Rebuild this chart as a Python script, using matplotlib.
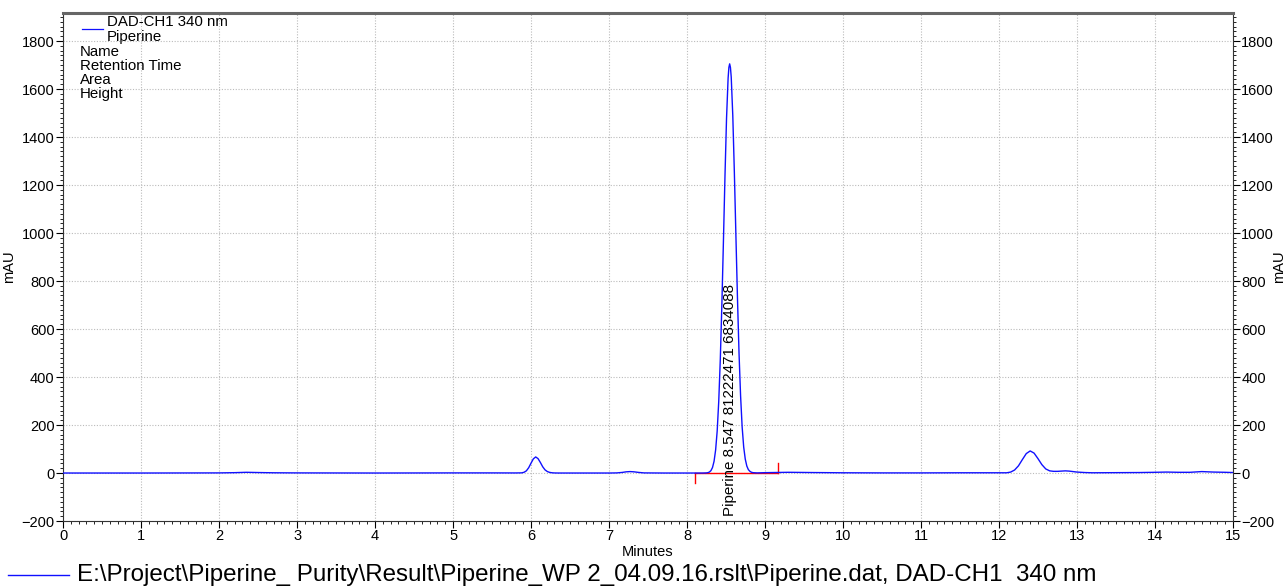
import matplotlib.pyplot as plt
from matplotlib.ticker import MultipleLocator
from matplotlib.lines import Line2D

plt.rcParams['font.family'] = ['Liberation Sans', 'DejaVu Sans']

# trace (minutes, mAU)
time_min = [
    0.0, 1.0, 2.0, 2.2, 2.35, 2.5, 2.7, 3.0, 4.0, 5.0, 5.5, 5.8,
    5.88, 5.91, 5.94, 5.97, 6.00, 6.03, 6.06, 6.09, 6.12, 6.15, 6.18, 6.21, 6.24, 6.27, 6.30, 6.35,
    6.6, 7.0, 7.10, 7.17, 7.22, 7.27, 7.32, 7.38, 7.45, 7.7, 8.0, 8.2,
    8.247, 8.267, 8.287, 8.307, 8.327, 8.347, 8.367, 8.387, 8.407, 8.427, 8.447, 8.467, 8.487, 8.507, 8.527,
    8.537, 8.547, 8.557,
    8.567, 8.587, 8.607, 8.627, 8.647, 8.667, 8.687, 8.707, 8.727, 8.747, 8.767, 8.787, 8.807, 8.827, 8.847,
    8.90, 9.0, 9.3, 9.6, 10.0, 10.5, 11.0, 11.5, 11.9, 12.1,
    12.15, 12.20, 12.25, 12.30, 12.35, 12.40, 12.45, 12.50, 12.55, 12.60, 12.65, 12.70, 12.75, 12.80, 12.85,
    12.90, 12.95, 13.00, 13.10, 13.20, 13.5, 13.8, 14.0, 14.15, 14.3, 14.45, 14.6, 14.75, 14.9, 15.0,
]
signal_mau = [
    0, 0, 0.5, 1.5, 3, 2, 1, 0.5, 0, 0.5, 0.5, 0.3,
    0.7, 3, 9, 22, 41, 59, 67, 60, 44, 26, 13, 6, 2.5, 1, 0.3, 0,
    0, 0, 0.5, 2.5, 5, 6, 5, 2.5, 0.5, 0, 0, 0,
    0.5, 1.5, 4, 10, 23, 49, 96, 175, 299, 474, 701, 965, 1238, 1479, 1645,
    1690, 1705, 1690,
    1650, 1490, 1255, 990, 730, 500, 322, 192, 108, 58, 29, 14, 7, 3, 1.5,
    0.5, 1.5, 3, 2, 1, 0.5, 0.5, 1, 1, 1,
    4, 12.5, 30, 56, 81, 92, 83, 60, 35, 17, 9, 7, 7, 8, 9,
    8, 6, 4, 2, 1, 1.5, 2, 3, 4, 3, 3, 6, 4, 3, 2,
]

# integration baseline of the piperine peak
base_x = [8.10, 9.17]
base_y = [0, 0]
peak_label = 'Piperine 8.547 81222471 6834088'
peak_rt = 8.547

fig = plt.figure(figsize=(12.87, 5.87), dpi=100)
ax = fig.add_axes([0.049, 0.1124, 0.909, 0.8655])

ax.plot(time_min, signal_mau, color='#1010ff', lw=1.0, zorder=3)
ax.plot(base_x, base_y, color='#ff0000', lw=1.0, zorder=2)
ax.plot([base_x[0], base_x[0]], [0, -40], color='#ff0000', lw=1.0)
ax.plot([base_x[1], base_x[1]], [0, 40], color='#ff0000', lw=1.0)
ax.text(peak_rt, -180, peak_label, rotation=90, ha='center', va='bottom', fontsize=10.9)

ax.set_xlim(0, 15)
ax.set_ylim(-200, 1917)
ax.xaxis.set_major_locator(MultipleLocator(1))
ax.xaxis.set_minor_locator(MultipleLocator(0.1))
ax.yaxis.set_major_locator(MultipleLocator(200))
ax.yaxis.set_minor_locator(MultipleLocator(20))
ax.grid(True, which='major', color='#bbbbbb', ls=(0, (1, 1.5)), lw=0.8)

ax.tick_params(which='both', direction='out', labelsize=10.5, pad=1,
               right=True, labelright=True, top=False)
ax.tick_params(which='major', length=5)
ax.tick_params(which='minor', length=2.5)
for s in ['left', 'right', 'bottom']:
    ax.spines[s].set_color('#333333')
ax.spines['top'].set_color('#666666')
ax.spines['top'].set_linewidth(2.2)

ax.set_xlabel('Minutes', fontsize=10.5, labelpad=1)
ax.set_ylabel('mAU', fontsize=10.5, labelpad=4)
fig.text(0.9935, 0.545, 'mAU', rotation=90, ha='center', va='center', fontsize=10.5)

# legend block in top-left corner
ax.plot([0.24, 0.51], [1852, 1852], color='#1010ff', lw=0.9)
leg_rows = ['Name', 'Retention Time', 'Area', 'Height']
ax.text(0.56, 1880, 'DAD-CH1 340 nm', fontsize=10.8, va='center')
ax.text(0.56, 1815, 'Piperine', fontsize=10.8, va='center')
for i, r in enumerate(leg_rows):
    ax.text(0.22, 1755 - 58 * i, r, fontsize=10.8, va='center')

# bottom file legend
fig.add_artist(Line2D([0.006, 0.054], [0.020, 0.020], color='#1010ff', lw=1.0))
fig.text(0.060, 0.020, r'E:\Project\Piperine_ Purity\Result\Piperine_WP 2_04.09.16.rslt\Piperine.dat, DAD-CH1  340 nm',
         fontsize=17.4, va='center')

fig.savefig('out.png', dpi=100)
